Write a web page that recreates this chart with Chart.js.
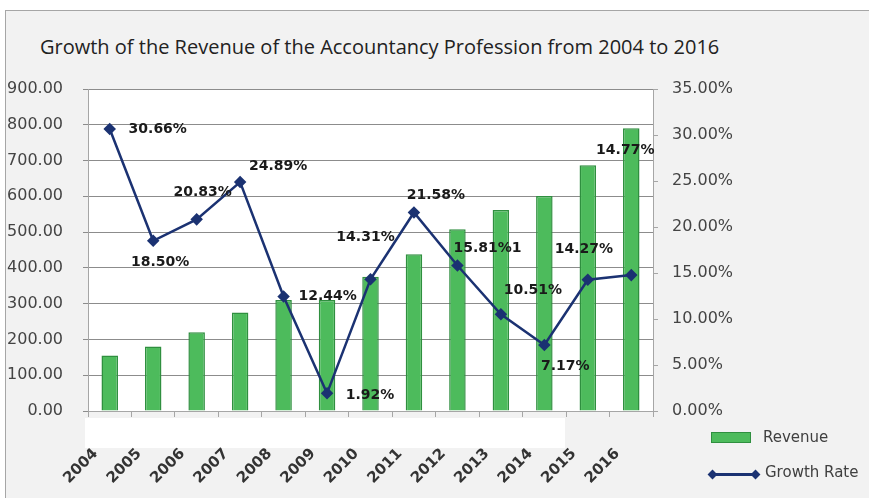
<!DOCTYPE html>
<html>
<head>
<meta charset="utf-8">
<script src="https://cdn.jsdelivr.net/npm/chart.js@4"></script>
<style>
  html, body { margin: 0; padding: 0; background: #fff; }
  #wrap { position: relative; width: 869px; height: 498px; overflow: hidden; }
  #frame { position: absolute; left: 5px; top: 10px; width: 880px; height: 500px; background: #f2f2f2;
           border-top: 1px solid #a6a6a6; border-left: 1px solid #a6a6a6; }
  #patch { position: absolute; left: 85px; top: 418px; width: 480px; height: 30px; background: #fff; }
  #title { position: absolute; left: 40px; top: 33px; font: 20px 'Open Sans'; color: #222; white-space: nowrap; }
  canvas { position: absolute; left: 0; top: 0; }
  .lgText { position: absolute; font: 15px 'DejaVu Sans'; color: #404040; white-space: nowrap; line-height: 18px; }
  #swatch { position: absolute; left: 711px; top: 432px; width: 38px; height: 9px; background: #4dbb5c; border: 1px solid #2f8f3f; }
  #lgLine { position: absolute; left: 712px; top: 473px; width: 44px; height: 3px; background: #1b3272; }
  .dia { position: absolute; width: 7px; height: 7px; background: #1b3272; transform: rotate(45deg); top: 471px; }
</style>
</head>
<body>
<div id="wrap">
  <div id="frame"></div>
  <div id="patch"></div>
  <div id="title">Growth of the Revenue of the Accountancy Profession from 2004 to 2016</div>
  <canvas id="c" width="869" height="498"></canvas>
  <div id="swatch"></div>
  <div class="lgText" style="left:763px; top:428px;">Revenue</div>
  <div id="lgLine"></div>
  <div class="dia" style="left:709px;"></div>
  <div class="dia" style="left:752px;"></div>
  <div class="lgText" style="left:765px; top:463px;">Growth Rate</div>
</div>
<script>
const years = ['2004', '2005', '2006', '2007', '2008', '2009', '2010', '2011', '2012', '2013', '2014', '2015', '2016'];
const revenue = [155, 180, 220, 275, 310, 310, 375, 438, 508, 562, 601, 687, 790];
const growthRate = [30.66, 18.50, 20.83, 24.89, 12.44, 1.92, 14.31, 21.58, 15.81, 10.51, 7.17, 14.27, 14.77];
const growthLabels = ['30.66%', '18.50%', '20.83%', '24.89%', '12.44%', '1.92%', '14.31%', '21.58%', '15.81%1', '10.51%', '7.17%', '14.27%', '14.77%'];

// where each growth label sits relative to its point (dx, dy)
const labelShift = [[48, 0], [7, 22], [6, -27], [38, -16], [44, 0], [43, 2], [-5, -42],
                    [22, -17], [30, -17], [32, -24], [21, 21], [-4, -30], [-6, -125]];

const plotBg = {
  id: 'plotBg',
  beforeDraw(chart) {
    const { ctx, chartArea: a } = chart;
    ctx.save();
    ctx.fillStyle = '#fff';
    ctx.fillRect(a.left, a.top, a.right - a.left, a.bottom - a.top);
    ctx.restore();
  }
};

const pointLabels = {
  id: 'pointLabels',
  afterDatasetsDraw(chart) {
    const ctx = chart.ctx;
    const meta = chart.getDatasetMeta(1);
    ctx.save();
    ctx.font = 'bold 14px "DejaVu Sans"';
    ctx.fillStyle = '#1a1a1a';
    ctx.textAlign = 'center';
    ctx.textBaseline = 'middle';
    meta.data.forEach((pt, i) => {
      const [dx, dy] = labelShift[i];
      ctx.fillText(growthLabels[i], pt.x + dx, pt.y + dy);
    });
    ctx.restore();
  }
};

const AXIS = '#a6a6a6';
const tickFont = { family: 'DejaVu Sans', size: 16 };

new Chart(document.getElementById('c'), {
  data: {
    labels: years,
    datasets: [
      { type: 'bar', label: 'Revenue', data: revenue, yAxisID: 'y', order: 2,
        backgroundColor: '#4dbb5c', borderColor: '#2f8f3f', borderWidth: 1.5,
        barPercentage: 0.38, categoryPercentage: 1 },
      { type: 'line', label: 'Growth Rate', data: growthRate, yAxisID: 'y1', order: 1,
        borderColor: '#1b3272', backgroundColor: '#1b3272', borderWidth: 2.5,
        pointStyle: 'rectRot', pointRadius: 4.5, tension: 0 }
    ]
  },
  options: {
    responsive: false,
    animation: false,
    layout: { padding: { top: 89, left: 0, right: 0, bottom: 0 } },
    plugins: { legend: { display: false }, tooltip: { enabled: false } },
    scales: {
      x: {
        grid: { offset: true, drawOnChartArea: false, tickLength: 6, color: AXIS },
        border: { color: AXIS },
        ticks: { minRotation: 45, maxRotation: 45, color: '#333', padding: 28, labelOffset: -14,
                 font: { family: 'DejaVu Sans', size: 15, weight: 'bold' } },
        afterFit(s) { s.height = 87; }
      },
      y: {
        position: 'left', min: 0, max: 900,
        ticks: { stepSize: 100, color: '#444', padding: 20, font: tickFont, callback: v => v.toFixed(2) },
        grid: { color: '#8c8c8c', tickLength: 5 },
        border: { color: AXIS },
        afterFit(s) { s.width = 88; }
      },
      y1: {
        position: 'right', min: 0, max: 35,
        ticks: { stepSize: 5, color: '#444', padding: 14, font: tickFont, callback: v => v.toFixed(2) + '%' },
        grid: { drawOnChartArea: false, tickLength: 5, color: AXIS },
        border: { color: AXIS },
        afterFit(s) { s.width = 216; }
      }
    }
  },
  plugins: [plotBg, pointLabels]
});
</script>
</body>
</html>
